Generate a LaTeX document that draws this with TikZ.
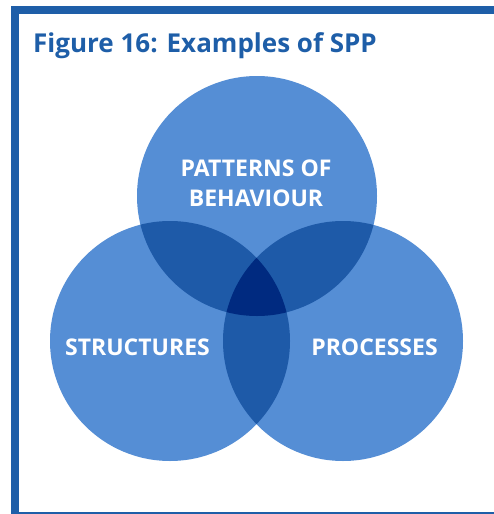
\documentclass[tikz,border=0pt]{standalone}
\usepackage{fontspec}
\setmainfont{Open Sans}
\definecolor{frameblue}{RGB}{30,94,168}
\definecolor{lightblue}{RGB}{85,142,213}
\definecolor{midblue}{RGB}{30,90,168}
\definecolor{darkblue}{RGB}{0,42,128}
\tikzset{
  label/.style={text=white,font=\bfseries\fontsize{23}{30}\selectfont,align=center,inner sep=0pt},
  venn/.style={fill=lightblue}
}
\begin{document}
\begin{tikzpicture}[x=1pt,y=-1pt]
\useasboundingbox (0,0) rectangle (494,514);
\fill[white] (0,0) rectangle (494,514);
% frame
\fill[frameblue] (11,6) rectangle (494,14);
\fill[frameblue] (11,6) rectangle (19,514);
\fill[frameblue] (11,512) rectangle (494,514);
\node[anchor=base west,inner sep=0pt,text=frameblue,font=\bfseries\fontsize{26}{28}\selectfont] (title) at (33,52) {Figure 16: Examples of SPP};
% circles
\def\ctop{(257,196) circle (120)}
\def\cleft{(170,341) circle (120)}
\def\cright{(343,341) circle (120)}
\fill[venn] \ctop;
\fill[venn] \cleft;
\fill[venn] \cright;
\begin{scope}\clip \ctop; \fill[midblue] \cleft; \fill[midblue] \cright; \end{scope}
\begin{scope}\clip \cleft; \fill[midblue] \cright; \end{scope}
\begin{scope}\clip \ctop; \clip \cleft; \fill[darkblue] \cright; \end{scope}
\node[label] (pat) at (256,183) {PATTERNS OF\\BEHAVIOUR};
\node[label] (str) at (137.5,347.5) {STRUCTURES};
\node[label] (pro) at (374.5,347.5) {PROCESSES};
\end{tikzpicture}
\end{document}
